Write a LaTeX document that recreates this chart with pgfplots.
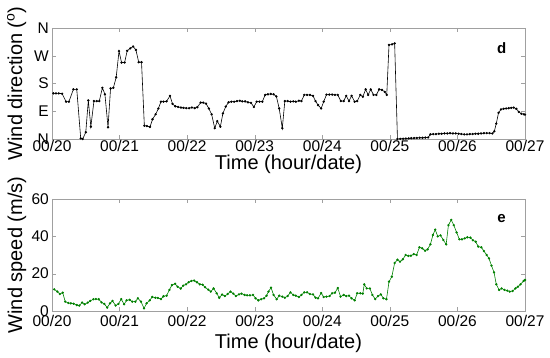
\documentclass[border=0pt]{standalone}
\usepackage{fontspec}
\setmainfont{Liberation Sans}
\usepackage{pgfplots}
\pgfplotsset{compat=1.18}
\usepackage{pgfplotstable}

\definecolor{framegray}{RGB}{160,160,160}
\definecolor{speedgreen}{RGB}{0,128,0}

% hours since 00/20 00:00 ; wind direction in degrees
\pgfplotstableread{
h deg
0.5 148
1.4 148
2.4 148
3.6 147
5 121
6 121
7.6 161
8.8 161
10.2 2
10.9 0
12 22
12.9 125
13.8 40
14.9 123
15.9 123
16.8 123
17.9 166
18.8 145
19.9 38
20.8 164
21.8 166
22.8 200
23.8 285
24.7 248
25.8 248
26.7 286
27.8 294
28.8 300
29.8 289
30.8 249
31.8 249
32.8 43
33.7 42
34.8 39
35.7 64
36.8 80
37.8 99
38.7 121
39.6 121
40.7 122
41.9 140
42.8 114
43.8 106
44.8 104
45.8 102
46.7 101
47.7 100
48.7 100
49.7 102
50.7 100
51.6 103
52.8 118
53.7 118
54.7 115
55.7 99
56.7 80
57.8 35
58.7 58
59.8 40
60.7 83
61.7 105
62.7 119
63.7 121
64.7 121
65.7 123
66.7 124
67.6 122
68.6 122
69.6 119
70.7 117
71.7 104
72.7 121
73.7 121
74.7 121
75.7 143
76.7 145
77.7 146
78.7 145
79.7 138
80.7 99
81.8 35
82.7 123
83.7 123
84.7 121
85.7 122
86.6 121
87.7 124
88.6 123
89.6 143
90.6 143
91.6 143
92.7 140
93.6 123
94.5 110
95.6 99
96.5 121
97.5 144
98.5 144
99.5 144
100.5 143
101.5 143
102.6 123
103.6 123
104.5 140
105.5 123
106.4 140
107.5 121
108.4 123
109.5 143
110.4 137
111.4 161
112.3 143
113.2 161
114.2 143
115.2 143
116.2 161
117.2 159
118.2 153
118.9 143
119.7 305
120.8 307
121.7 310
122.7 0
123.7 0.5
124.7 1
125.7 1.5
126.7 2
127.6 2.5
128.6 3
129.6 3.5
130.6 4
131.6 4
132.6 4.5
133.6 5
134.4 15
135.4 16
136.4 16
137.4 17
138.4 17
139.4 18
140.4 18
141.4 19
142.4 18
143.4 18
144.4 17
145.4 16
146.4 15
147.4 15
148.4 16
149.4 16
150.4 17
151.4 17
152.4 18
153.4 19
154.4 19
155.4 19
156.4 18
157.1 25
157.8 50
158.6 85
159.5 96
160.4 98
161.3 99
162.2 100
163.1 101
164 102
164.9 98
165.8 88
166.7 82
167.6 80
168 79
}\dirtable

% hours since 00/20 00:00 ; wind speed in m/s
\pgfplotstableread{
h ws
0.8 11.6
1.9 10.4
2.8 9.1
3.8 9.8
4.7 5
5.8 4.3
6.7 4.1
7.7 3.9
8.8 3.2
9.7 2.9
10.7 4.5
11.6 3.6
12.7 4.5
13.6 5.4
14.7 6.3
15.6 6.4
16.6 6.3
17.6 4.6
18.6 3.8
19.6 1.8
20.6 4.1
21.5 5.4
22.6 2.9
23.6 3.8
24.6 6.4
25.6 3.6
26.5 5.7
27.6 6
28.5 5
29.6 5
30.5 6.8
31.6 5
32.7 1.4
33.6 4.1
34.7 5.7
35.6 7.5
36.7 7.1
37.6 7
38.7 6.4
39.6 7.9
40.7 8.2
41.7 11.3
42.6 13.9
43.7 14.6
44.6 13
45.7 12
46.6 13.6
47.6 14.3
48.5 15.4
49.5 16.1
50.5 16.3
51.5 15.4
52.5 14.3
53.5 14.1
54.4 12.7
55.5 11.4
56.4 10.4
57.4 12.1
58.5 9.5
59.4 7.1
60.4 8.8
61.4 8
62.4 9.1
63.4 10.4
64.4 9.3
65.3 8
66.4 8.9
67.3 9.3
68.4 8.6
69.3 8.4
70.3 8.4
71.4 8.6
72.3 6.8
73.3 5.7
74.3 6.3
75.3 6.8
76.2 8.2
76.9 10.4
77.8 12.5
78.7 8.6
79.8 6.3
80.7 8.2
81.8 7.7
82.7 7.1
83.7 8
84.7 10
85.7 8.6
86.6 8.2
87.7 7.5
88.6 8.6
89.6 10
90.6 10
91.6 9.1
92.7 8.9
93.6 7.1
94.5 6.8
95.6 9.6
96.5 7.5
97.5 7.7
98.6 8
99.5 9.5
100.5 9.8
101.5 12.3
102.5 7.7
103.6 8.6
104.5 8
105.5 8.2
106.4 6.8
107.5 5.7
108.4 9.5
109.5 9.5
110.4 9.3
110.9 14.3
111.8 12.1
112.9 12.1
113.8 8.6
114.8 6.4
115.8 8
116.8 8.9
117.7 6.8
118.8 6.3
119.7 15.7
120.7 18.4
121.7 25.7
122.7 27.5
123.6 26.4
124.6 27.7
125.6 30
126.6 29.5
127.5 29.6
128.5 30.5
129.5 30
130.5 34.1
131.5 33.6
132.5 32.3
133.4 33
134.4 35.7
135.3 40.7
136.1 43.6
137 40
138 40.5
139 38
140 35.7
140.8 46
141.8 48.8
142.7 46
143.7 42.1
144.7 38.4
145.6 38.4
146.6 38.9
147.5 39.5
148.6 39.3
149.5 37.9
150.5 37.1
151.4 34.5
152.5 34.1
153.4 32.1
154.4 30
155.2 28.2
156.1 24.3
157 20.7
157.8 14.3
158.8 11.3
159.7 12.1
160.7 11.3
161.7 10.9
162.6 10.4
163.6 10.7
164.6 12.1
165.5 13
166.4 14.3
167.5 16.1
168 16.6
}\speedtable

\pgfplotsset{
  panel/.style={
    scale only axis,
    width=473pt,
    xmin=0, xmax=168,
    xtick={0,24,...,168},
    xticklabels={00/20,00/21,00/22,00/23,00/24,00/25,00/26,00/27},
    tick align=inside,
    major tick length=4pt,
    axis line style={framegray},
    tick style={framegray},
    tick label style={font=\fontsize{15.5}{18}\selectfont, text=black},
    /pgf/number format/assume math mode=true,
    yticklabel style={inner sep=0pt, xshift=-3pt},
    label style={font=\fontsize{20}{23}\selectfont},
    xlabel={Time (hour/date)},
  },
}

\begin{document}
\begin{tikzpicture}
\begin{axis}[panel,
    at={(0pt,172pt)}, anchor=south west,
    height=111pt,
    ymin=0, ymax=360,
    ytick={0,90,180,270,360},
    yticklabels={N,E,S,W,N},
    xticklabel style={inner sep=0pt, yshift=-1.5pt},
    xlabel style={at={(axis description cs:0.5,-0.272)}, anchor=base},
    ylabel={Wind direction (\textsuperscript{o})},
    ylabel style={at={(axis description cs:-0.063,0.5)}, anchor=base, rotate=0},
  ]
  \addplot[black, line width=0.6pt, mark=*, mark size=0.85pt] table[x=h, y=deg] {\dirtable};
  \node[font=\fontsize{15}{17}\selectfont\bfseries] at (axis cs:159.7,295) {d};
\end{axis}

\begin{axis}[panel,
    at={(0pt,0pt)}, anchor=south west,
    height=112pt,
    ymin=0, ymax=60,
    ytick={0,20,40,60},
    xticklabel style={inner sep=0pt, yshift=-4pt},
    xlabel style={at={(axis description cs:0.5,-0.335)}, anchor=base},
    ylabel={Wind speed (m/s)},
    ylabel style={at={(axis description cs:-0.063,0.5)}, anchor=base, rotate=0},
  ]
  \addplot[speedgreen, line width=0.6pt, mark=*, mark size=0.85pt] table[x=h, y=ws] {\speedtable};
  \node[font=\fontsize{15}{17}\selectfont\bfseries] at (axis cs:159.7,49.3) {e};
\end{axis}

\pgfresetboundingbox
\path[use as bounding box] (-52pt,-47pt) rectangle (498pt,311pt);
\end{tikzpicture}
\end{document}
